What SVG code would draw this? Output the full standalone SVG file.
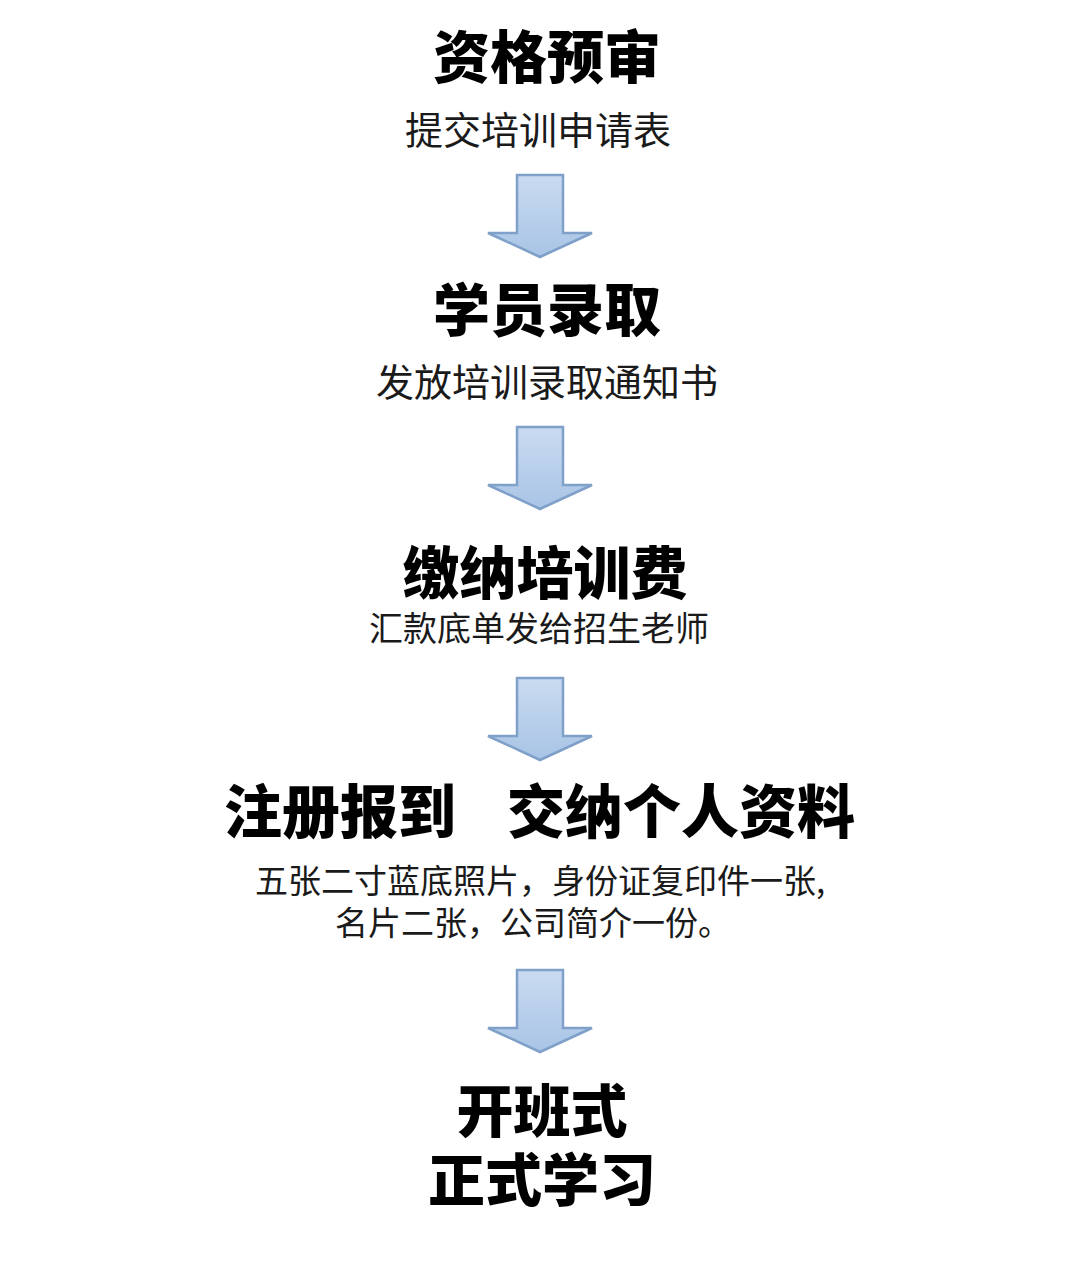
<svg xmlns="http://www.w3.org/2000/svg" width="1080" height="1286" viewBox="0 0 1080 1286">
<defs>
<linearGradient id="ag" x1="0" y1="0" x2="0" y2="1">
<stop offset="0" stop-color="#c9dbf0"/>
<stop offset="1" stop-color="#a9c4e6"/>
</linearGradient>
<path id="arrow" d="M-23,0 H23 V58 H52 L0,82 L-52,58 H-23 Z"/>
</defs>
<style>
.t{font-family:"Noto Sans CJK SC","Noto Sans",sans-serif;font-weight:900;fill:#000;text-anchor:middle}
.s{font-family:"Noto Sans CJK SC","Noto Sans",sans-serif;font-weight:400;fill:#1a1a1a;text-anchor:middle}
.a{fill:url(#ag);stroke:#7fa0c9;stroke-width:2.5;stroke-linejoin:miter}
</style>
<rect width="1080" height="1286" fill="#fff"/>
<g id="connectors">
<use href="#arrow" class="a" x="540" y="175"/>
<use href="#arrow" class="a" x="540" y="427"/>
<use href="#arrow" class="a" x="540" y="678"/>
<use href="#arrow" class="a" x="540" y="970"/>
</g>
<g id="n1">
<text class="t" x="547" y="78" font-size="57">资格预审</text>
<text class="s" x="538" y="144" font-size="38">提交培训申请表</text>
</g>
<g id="n2">
<text class="t" x="547" y="331" font-size="57">学员录取</text>
<text class="s" x="547" y="396" font-size="38">发放培训录取通知书</text>
</g>
<g id="n3">
<text class="t" x="545" y="594" font-size="57">缴纳培训费</text>
<text class="s" x="539" y="641" font-size="34">汇款底单发给招生老师</text>
</g>
<g id="n4">
<text class="t" x="340" y="833" font-size="58">注册报到</text>
<text class="t" x="681" y="833" font-size="58">交纳个人资料</text>
<text class="s" x="540" y="893" font-size="33">五张二寸蓝底照片，身份证复印件一张,</text>
<text class="s" x="533" y="935" font-size="33">名片二张，公司简介一份。</text>
</g>
<g id="n5">
<text class="t" x="542" y="1132" font-size="57">开班式</text>
<text class="t" x="542" y="1201" font-size="57">正式学习</text>
</g>
</svg>
